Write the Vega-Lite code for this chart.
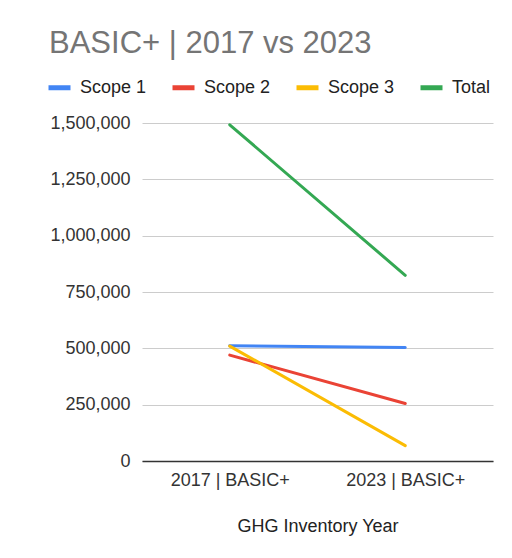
{
  "$schema": "https://vega.github.io/schema/vega-lite/v6.json",
  "width": 351,
  "height": 338,
  "autosize": "none",
  "padding": {"left": 142, "top": 123, "right": 19, "bottom": 97},
  "background": "white",
  "config": {
    "font": "Liberation Sans",
    "view": {"stroke": null}
  },
  "title": {
    "text": "BASIC+ | 2017 vs 2023",
    "anchor": "start",
    "fontSize": 31,
    "fontWeight": "normal",
    "color": "#757575",
    "offset": 14,
    "dx": 3
  },
  "data": {
    "values": [
      {"year": "2017 | BASIC+", "series": "Scope 1", "value": 512000},
      {"year": "2023 | BASIC+", "series": "Scope 1", "value": 504000},
      {"year": "2017 | BASIC+", "series": "Scope 2", "value": 470000},
      {"year": "2023 | BASIC+", "series": "Scope 2", "value": 255000},
      {"year": "2017 | BASIC+", "series": "Scope 3", "value": 510000},
      {"year": "2023 | BASIC+", "series": "Scope 3", "value": 68000},
      {"year": "2017 | BASIC+", "series": "Total", "value": 1492000},
      {"year": "2023 | BASIC+", "series": "Total", "value": 824000}
    ]
  },
  "mark": {"type": "line", "strokeWidth": 3, "strokeCap": "round"},
  "encoding": {
    "x": {
      "field": "year",
      "type": "ordinal",
      "scale": {"type": "point", "padding": 0.5},
      "axis": {
        "title": "GHG Inventory Year",
        "titleFontSize": 18,
        "titleFontWeight": "normal",
        "titleColor": "#222222",
        "titlePadding": 28,
        "labelAngle": 0,
        "labelFontSize": 18,
        "labelColor": "#333333",
        "labelPadding": 10,
        "ticks": false,
        "grid": false,
        "domainColor": "#333333",
        "domainWidth": 1.5
      }
    },
    "y": {
      "field": "value",
      "type": "quantitative",
      "scale": {"domain": [0, 1500000]},
      "axis": {
        "title": null,
        "values": [0, 250000, 500000, 750000, 1000000, 1250000, 1500000],
        "format": ",d",
        "labelFontSize": 18,
        "labelColor": "#333333",
        "labelPadding": 12,
        "ticks": false,
        "domain": false,
        "gridColor": "#cccccc",
        "gridWidth": 1
      }
    },
    "color": {
      "field": "series",
      "type": "nominal",
      "scale": {
        "domain": ["Scope 1", "Scope 2", "Scope 3", "Total"],
        "range": ["#4285F4", "#EA4335", "#FBBC04", "#34A853"]
      },
      "legend": {
        "title": null,
        "orient": "none",
        "direction": "horizontal",
        "legendX": -96,
        "legendY": -49,
        "padding": 0,
        "columnPadding": 15,
        "labelFontSize": 18,
        "labelColor": "#222222",
        "labelOffset": 7,
        "symbolType": "stroke",
        "symbolSize": 484,
        "symbolStrokeWidth": 5,
        "symbolOpacity": 1
      }
    }
  }
}
